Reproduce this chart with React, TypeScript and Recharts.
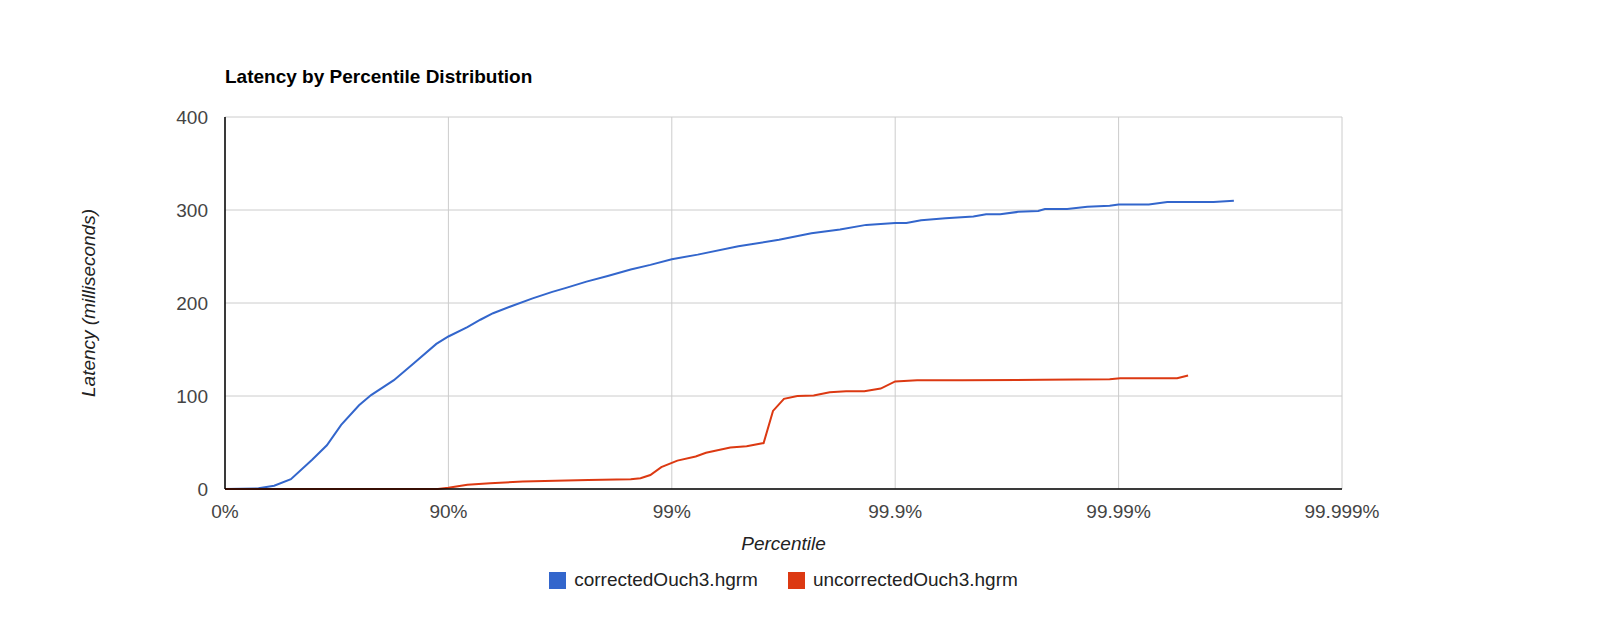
import React from "react"
import { LineChart, Line, XAxis, YAxis, CartesianGrid, Legend } from "recharts"

// x = log10(1 / (1 - percentile)), so 0 -> 0%, 1 -> 90%, 2 -> 99% ...
const tickValues = [0, 1, 2, 3, 4, 5]
const tickLabels = ["0%", "90%", "99%", "99.9%", "99.99%", "99.999%"]

const correctedX = [
  0, 0.15, 0.22, 0.295, 0.39, 0.456, 0.52, 0.6, 0.654, 0.756, 0.844, 0.946, 1.0, 1.085, 1.143, 1.2,
  1.275, 1.377, 1.465, 1.523, 1.618, 1.713, 1.816, 1.904, 2.0, 2.116, 2.298, 2.48, 2.625, 2.753,
  2.87, 3.0, 3.05, 3.116, 3.225, 3.35, 3.407, 3.47, 3.55, 3.64, 3.67, 3.77, 3.86, 3.96, 4.0, 4.135,
  4.218, 4.425, 4.516,
]
const correctedMs = [
  0, 0.7, 3.5, 10.5, 31.5, 47, 69, 90, 101, 117, 135, 156, 164, 174, 182, 189, 196, 205, 212, 216,
  223, 229, 236, 241, 247, 252, 261, 268, 275, 279, 284, 286, 286, 289, 291, 293, 295.5, 295.5, 298,
  299, 301, 301, 303.5, 304.6, 306, 306, 308.5, 308.5, 310,
]

const uncorrectedX = [
  0, 0.953, 1.0, 1.085, 1.187, 1.333, 1.48, 1.626, 1.816, 1.86, 1.904, 1.953, 2.025, 2.107, 2.153,
  2.262, 2.335, 2.411, 2.453, 2.502, 2.562, 2.635, 2.707, 2.78, 2.862, 2.935, 3.0, 3.098, 3.3, 3.66,
  3.96, 4.007, 4.262, 4.311,
]
const uncorrectedMs = [
  0, 0, 1.4, 4.5, 6.3, 8, 9, 9.8, 10.5, 11.5, 15, 23.5, 30.5, 35, 39, 44.5, 46, 49.4, 84, 97, 100,
  100.6, 104, 105, 105, 108, 115.7, 117, 117, 117.4, 118, 119, 119, 122,
]

const seriesNames = ["correctedOuch3.hgrm", "uncorrectedOuch3.hgrm"]
const seriesColors = ["#3366cc", "#dc3912"]

const toRows = (xs: number[], ys: number[]) => xs.map((x, i) => ({ x, ms: ys[i] }))
const correctedData = toRows(correctedX, correctedMs)
const uncorrectedData = toRows(uncorrectedX, uncorrectedMs)

const font = "'Liberation Sans', Arial, sans-serif"

function LegendBox() {
  return (
    <div style={{ display: "flex", justifyContent: "center", fontFamily: font, fontSize: 19, color: "#222" }}>
      {seriesNames.map((name, i) => (
        <div key={name} style={{ display: "flex", alignItems: "center", marginRight: i === 0 ? 30 : 0 }}>
          <span style={{ width: 17, height: 17, background: seriesColors[i], display: "inline-block", marginRight: 8 }} />
          <span>{name}</span>
        </div>
      ))}
    </div>
  )
}

export default function App() {
  return (
    <div style={{ position: "relative", width: 1584, height: 601, fontFamily: font }}>
      <div
        style={{
          position: "absolute",
          left: 217,
          top: 58,
          fontSize: 19,
          fontWeight: "bold",
          color: "#000",
          whiteSpace: "nowrap",
        }}
      >
        Latency by Percentile Distribution
      </div>
      <LineChart width={1584} height={601} margin={{ top: 109, right: 250, left: 0, bottom: 56 }}>
        <CartesianGrid stroke="#cccccc" strokeWidth={1} verticalValues={tickValues} horizontalValues={[0, 100, 200, 300, 400]} />
        <XAxis
          type="number"
          dataKey="x"
          domain={[0, 5]}
          ticks={tickValues}
          tickFormatter={(v: number) => tickLabels[tickValues.indexOf(v)]}
          allowDataOverflow
          height={64}
          tickSize={0}
          tickMargin={16}
          axisLine={{ stroke: "#000", strokeWidth: 1.5 }}
          tick={{ fill: "#444", fontSize: 19, fontFamily: font }}
          label={{
            value: "Percentile",
            position: "insideBottom",
            offset: 3,
            fill: "#222",
            fontSize: 19,
            fontStyle: "italic",
            fontFamily: font,
          }}
        />
        <YAxis
          type="number"
          domain={[0, 400]}
          ticks={[0, 100, 200, 300, 400]}
          width={217}
          tickSize={0}
          tickMargin={17}
          axisLine={{ stroke: "#000", strokeWidth: 1.5 }}
          tick={{ fill: "#444", fontSize: 19, fontFamily: font }}
          label={{
            content: () => (
              <text
                x={80}
                y={295}
                transform="rotate(-90 80 295)"
                textAnchor="middle"
                dominantBaseline="central"
                fill="#222"
                fontSize={19}
                fontStyle="italic"
                fontFamily={font}
              >
                Latency (milliseconds)
              </text>
            ),
          }}
        />
        <Legend
          layout="horizontal"
          verticalAlign="middle"
          align="center"
          wrapperStyle={{ top: 561, left: 217, width: 1117 }}
          content={() => <LegendBox />}
        />
        <Line
          data={correctedData}
          dataKey="ms"
          name={seriesNames[0]}
          stroke={seriesColors[0]}
          strokeWidth={2}
          dot={false}
          isAnimationActive={false}
        />
        <Line
          data={uncorrectedData}
          dataKey="ms"
          name={seriesNames[1]}
          stroke={seriesColors[1]}
          strokeWidth={2}
          dot={false}
          isAnimationActive={false}
        />
      </LineChart>
    </div>
  )
}
